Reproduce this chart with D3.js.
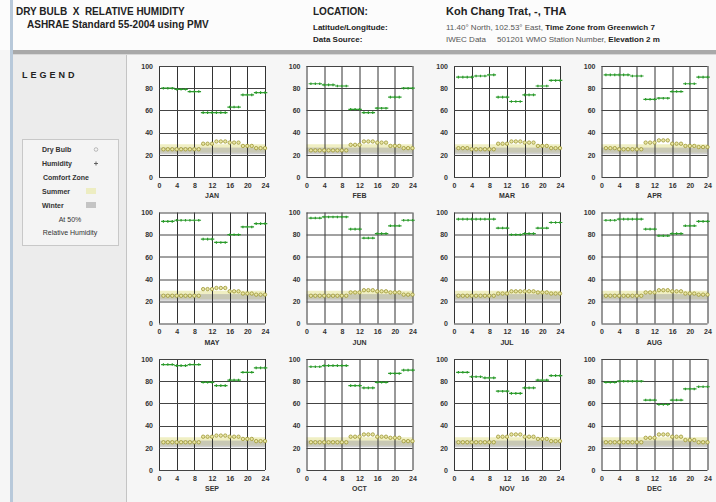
<!DOCTYPE html>
<html>
<head>
<meta charset="utf-8">
<script src="https://cdn.jsdelivr.net/npm/d3@7"></script>
<style>
  body { margin: 0; background: #f5f5f5; font-family: Arial, "Liberation Sans", sans-serif; }
  svg text { font-family: Arial, "Liberation Sans", sans-serif; white-space: pre; }
</style>
</head>
<body>
<div id="chart"></div>
<script>
// months and hours
var months = ["JAN", "FEB", "MAR", "APR", "MAY", "JUN", "JUL", "AUG", "SEP", "OCT", "NOV", "DEC"];
var hours = [1,2,3,4,5,6,7,8,9,10,11,12,13,14,15,16,17,18,19,20,21,22,23,24];
var xTicks = [0, 4, 8, 12, 16, 20, 24];
var yTicks = [0, 20, 40, 60, 80, 100];

// relative humidity (%) by hour
var rhJan = [80,80,80,79,79,79,77,77,77,58,58,58,58,58,58,63,63,63,74,74,74,76,76,76];
var rhFeb = [84,84,84,83,83,83,82,82,82,61,61,61,58,58,58,62,62,62,72,72,72,80,80,80];
var rhMar = [90,90,90,90,91,91,91,92,92,72,72,72,68,68,68,74,74,74,82,82,82,87,87,87];
var rhApr = [92,92,92,92,92,92,91,91,91,70,70,70,71,71,71,77,77,77,84,84,84,90,90,90];
var rhMay = [92,92,92,93,93,93,93,93,93,76,76,76,73,73,73,80,80,80,87,87,87,90,90,90];
var rhJun = [95,95,95,96,96,96,96,96,96,85,85,85,77,77,77,81,81,81,88,88,88,93,93,93];
var rhJul = [94,94,94,94,94,94,94,94,94,86,86,86,80,80,80,81,81,81,86,86,86,91,91,91];
var rhAug = [93,93,93,94,94,94,94,94,94,85,85,85,79,79,79,81,81,81,88,88,88,92,92,92];
var rhSep = [95,95,95,94,94,94,95,95,95,79,79,79,76,76,76,81,81,81,88,88,88,92,92,92];
var rhOct = [93,93,93,94,94,94,94,94,94,76,76,76,74,74,74,79,79,79,87,87,87,90,90,90];
var rhNov = [88,88,88,84,84,84,83,83,83,71,71,71,69,69,69,74,74,74,81,81,81,85,85,85];
var rhDec = [79,79,79,80,80,80,80,80,80,63,63,63,59,59,59,63,63,63,73,73,73,75,75,75];

// dry bulb temperature (°C) by hour
var dbJan = [25,25,25,25,25,25,25,25,25,30,30,30,32,32,32,31,31,31,28,28,28,26,26,26];
var dbFeb = [24,24,24,24,24,24,24,24,24,29,29,29,32,32,32,31,31,31,28,28,28,26,26,26];
var dbMar = [26,26,26,25,25,25,25,25,25,30,30,30,32,32,32,31,31,31,28,28,28,26,26,26];
var dbApr = [26,26,26,25,25,25,25,25,25,31,31,31,33,33,33,30,30,30,28,28,28,27,27,27];
var dbMay = [25,25,25,25,25,25,25,25,25,31,31,31,32,32,32,29,29,29,27,27,27,26,26,26];
var dbJun = [25,25,25,25,25,25,25,25,25,28,28,28,30,30,30,29,29,29,28,28,28,26,26,26];
var dbJul = [25,25,25,25,25,25,25,25,25,27,27,27,29,29,29,29,29,29,28,28,28,27,27,27];
var dbAug = [25,25,25,25,25,25,25,25,25,28,28,28,30,30,30,29,29,29,27,27,27,26,26,26];
var dbSep = [25,25,25,25,25,25,25,25,25,30,30,30,31,31,31,30,30,30,28,28,28,26,26,26];
var dbOct = [25,25,25,25,25,25,25,25,25,30,30,30,32,32,32,30,30,30,29,29,29,26,26,26];
var dbNov = [25,25,25,25,25,25,25,25,25,30,30,30,32,32,32,30,30,30,28,28,28,26,26,26];
var dbDec = [25,25,25,25,25,25,25,25,25,29,29,29,32,32,32,30,30,30,27,27,27,25,25,25];

var rhAll = [rhJan, rhFeb, rhMar, rhApr, rhMay, rhJun, rhJul, rhAug, rhSep, rhOct, rhNov, rhDec];
var dbAll = [dbJan, dbFeb, dbMar, dbApr, dbMay, dbJun, dbJul, dbAug, dbSep, dbOct, dbNov, dbDec];

// comfort zone bands (°C) at 50% RH
var summerZone = [22, 29.5];
var winterZone = [20.5, 26.5];

var W = 716, H = 502;
var svg = d3.select("#chart").append("svg")
    .attr("width", W)
    .attr("height", H);

// ---------- page frame ----------
svg.append("rect").attr("x", 0).attr("y", 0).attr("width", W).attr("height", H).attr("fill", "#f6f6f6");
svg.append("rect").attr("x", 0).attr("y", 0).attr("width", W).attr("height", 50).attr("fill", "#fcfcfc");
svg.append("rect").attr("x", 12).attr("y", 50).attr("width", W - 12).attr("height", 4).attr("fill", "#a9a9a9");
svg.append("rect").attr("x", 12).attr("y", 54).attr("width", W - 12).attr("height", 1).attr("fill", "#d8d8d8");
svg.append("rect").attr("x", 13).attr("y", 55).attr("width", 113).attr("height", H - 55).attr("fill", "#ececec");
svg.append("rect").attr("x", 10).attr("y", 0).attr("width", 3).attr("height", H).attr("fill", "#b8c9da");
svg.append("line").attr("x1", 126.5).attr("x2", 126.5).attr("y1", 55).attr("y2", H)
    .style("stroke", "#c4c4c4").style("stroke-width", 1);

// ---------- header ----------
var hdr = svg.append("g").style("fill", "#222");
hdr.append("text").attr("x", 16).attr("y", 15).style("font-size", "10px").style("font-weight", "bold")
    .text("DRY BULB  X  RELATIVE HUMIDITY");
hdr.append("text").attr("x", 27).attr("y", 28).style("font-size", "10px").style("font-weight", "bold")
    .text("ASHRAE Standard 55-2004 using PMV");
hdr.append("text").attr("x", 313).attr("y", 15).style("font-size", "10px").style("font-weight", "bold")
    .text("LOCATION:");
hdr.append("text").attr("x", 446).attr("y", 15).style("font-size", "11px").style("font-weight", "bold")
    .text("Koh Chang Trat, -, THA");
hdr.append("text").attr("x", 313).attr("y", 30).style("font-size", "8px").style("font-weight", "bold")
    .text("Latitude/Longitude:");
hdr.append("text").attr("x", 313).attr("y", 42).style("font-size", "8px").style("font-weight", "bold")
    .text("Data Source:");
var l1 = hdr.append("text").attr("x", 446).attr("y", 30).style("font-size", "8px");
l1.append("tspan").style("fill", "#555").text("11.40° North, 102.53° East, ");
l1.append("tspan").style("font-weight", "bold").text("Time Zone from Greenwich 7");
var l2 = hdr.append("text").attr("x", 446).attr("y", 42).style("font-size", "8px");
l2.append("tspan").style("fill", "#555").text("IWEC Data     501201 WMO Station Number, ");
l2.append("tspan").style("font-weight", "bold").text("Elevation 2 m");

// ---------- legend ----------
var leg = svg.append("g");
leg.append("text").attr("x", 22).attr("y", 78).style("font-size", "9px").style("font-weight", "bold")
    .style("letter-spacing", "3px").style("fill", "#222").text("LEGEND");
leg.append("rect").attr("x", 22.5).attr("y", 139.5).attr("width", 96).attr("height", 106)
    .attr("fill", "#f4f4f4").style("stroke", "#c8c8c8");
var legRows = [
  {t: "Dry Bulb", y: 152, sym: "db"},
  {t: "Humidity", y: 166, sym: "rh"},
  {t: "Comfort Zone", y: 180},
  {t: "Summer", y: 194, sw: "#ededc2"},
  {t: "Winter", y: 208, sw: "#c4c4c4"}
];
legRows.forEach(function(r) {
  leg.append("text").attr("x", r.sym || r.sw ? 42 : 43).attr("y", r.y)
      .style("font-size", "7px").style("font-weight", "bold").style("fill", "#333").text(r.t);
  if (r.sym == "db") {
    leg.append("circle").attr("cx", 96).attr("cy", r.y - 2.5).attr("r", 1.8)
        .attr("fill", "none").style("stroke", "#aaa").style("stroke-width", 0.8);
  }
  if (r.sym == "rh") {
    leg.append("path").attr("d", "M94,163.5h4M96,161.5v4").style("stroke", "#555").style("stroke-width", 0.9);
  }
  if (r.sw) {
    leg.append("rect").attr("x", 86).attr("y", r.y - 6).attr("width", 10).attr("height", 6).attr("fill", r.sw);
  }
});
leg.append("text").attr("x", 70).attr("y", 222).attr("text-anchor", "middle")
    .style("font-size", "7px").style("fill", "#333").text("At 50%");
leg.append("text").attr("x", 70).attr("y", 235).attr("text-anchor", "middle")
    .style("font-size", "7px").style("fill", "#333").text("Relative Humidity");

// ---------- monthly panels ----------
var colX = [159, 306.5, 454, 601.5],
    rowY = [66, 212.5, 359],
    pw = 106, ph = 111;

var x = d3.scaleLinear().domain([0, 24]).range([0, pw]);
var y = d3.scaleLinear().domain([0, 100]).range([ph, 0]);

months.forEach(function(m, i) {
  var g = svg.append("g")
      .attr("transform", "translate(" + colX[i % 4] + "," + rowY[Math.floor(i / 4)] + ")");

  g.append("rect").attr("width", pw).attr("height", ph).attr("fill", "#fff");

  // comfort zone
  g.append("rect").attr("x", 0).attr("width", pw)
      .attr("y", y(summerZone[1])).attr("height", y(summerZone[0]) - y(summerZone[1]))
      .attr("fill", "#ecebb4").attr("opacity", 0.8);
  g.append("rect").attr("x", 0).attr("width", pw)
      .attr("y", y(winterZone[1])).attr("height", y(winterZone[0]) - y(winterZone[1]))
      .attr("fill", "#a8a8a8").attr("opacity", 0.55);

  // grid
  g.selectAll(".vg").data(xTicks).enter().append("line")
      .attr("x1", function(d) { return Math.round(x(d)) + 0.5; })
      .attr("x2", function(d) { return Math.round(x(d)) + 0.5; })
      .attr("y1", 0).attr("y2", ph)
      .style("stroke", "#333").style("stroke-width", 1);
  g.selectAll(".hg").data(yTicks).enter().append("line")
      .attr("x1", 0).attr("x2", pw)
      .attr("y1", function(d) { return Math.round(y(d)) + 0.5; })
      .attr("y2", function(d) { return Math.round(y(d)) + 0.5; })
      .style("stroke", "#444").style("stroke-width", 1);

  // axes
  var xAxis = g.append("g").attr("transform", "translate(0," + ph + ")")
      .call(d3.axisBottom(x).tickValues(xTicks).tickSize(0).tickPadding(6));
  var yAxis = g.append("g")
      .call(d3.axisLeft(y).tickValues(yTicks).tickSize(0).tickPadding(6));
  [xAxis, yAxis].forEach(function(a) {
    a.select(".domain").remove();
    a.selectAll("text").style("font-size", "7px").style("font-weight", "bold").style("fill", "#333");
  });

  g.append("text").attr("x", pw / 2).attr("y", ph + 21).attr("text-anchor", "middle")
      .style("font-size", "7px").style("font-weight", "bold").style("fill", "#333").text(m);

  // dry bulb
  g.selectAll(".db").data(dbAll[i]).enter().append("circle")
      .attr("cx", function(d, k) { return x(hours[k]); })
      .attr("cy", function(d) { return y(d); })
      .attr("r", 1.7)
      .attr("fill", "#e9e6a6")
      .style("stroke", "#9c9632").style("stroke-width", 0.8);

  // humidity
  g.selectAll(".rh").data(rhAll[i]).enter().append("path")
      .attr("transform", function(d, k) { return "translate(" + x(hours[k]) + "," + y(d) + ")"; })
      .attr("d", "M-2.3,0H2.3M0,-1.3V1.3")
      .style("stroke", "#2a9a2a").style("stroke-width", 1.2);
});
</script>
</body>
</html>
